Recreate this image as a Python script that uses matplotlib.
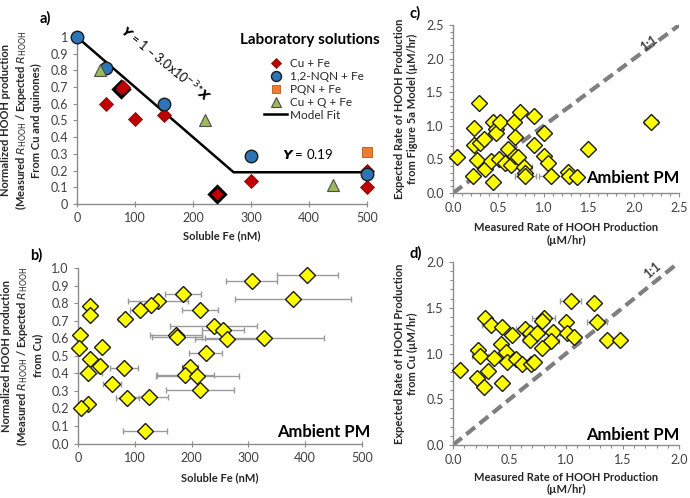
import matplotlib
matplotlib.use("Agg")
import matplotlib.pyplot as plt
from matplotlib.ticker import MultipleLocator, FuncFormatter

plt.rcParams['font.family'] = ['Lato', 'DejaVu Sans']
plt.rcParams['mathtext.fontset'] = 'dejavusans'

# ---- panel a: laboratory solutions ----
cufe_x = [50, 100, 150, 80, 300, 500, 500]
cufe_y = [0.60, 0.51, 0.53, 0.70, 0.14, 0.10, 0.195]
cufe_bold_x = [75, 242]
cufe_bold_y = [0.69, 0.06]
nqn_x = [0, 50, 150, 300, 500]
nqn_y = [1.0, 0.815, 0.60, 0.29, 0.18]
pqn_x = [500]
pqn_y = [0.31]
cuq_x = [39, 220, 441]
cuq_y = [0.80, 0.50, 0.114]
fit_x = [0, 270, 500]
fit_y = [1.0, 0.19, 0.19]

# ---- panel b: ambient PM, normalized vs soluble Fe ----
b_x = [404, 306, 379, 185, 141, 128, 109, 215, 82, 22, 22, 239, 255, 173, 175,
       262, 328, 3, 1, 43, 225, 21, 38, 81, 197, 18, 189, 210, 60, 215, 87, 125,
       18, 6, 118]
b_y = [0.962, 0.924, 0.825, 0.851, 0.81, 0.787, 0.762, 0.762, 0.71, 0.785, 0.733,
       0.672, 0.644, 0.619, 0.606, 0.594, 0.60, 0.619, 0.547, 0.552, 0.514, 0.48,
       0.442, 0.432, 0.438, 0.40, 0.39, 0.383, 0.337, 0.305, 0.257, 0.267, 0.225,
       0.204, 0.072]
b_xerr = [53, 45, 102, 32, 53, 0, 18, 32, 12, 0, 0, 77, 37, 46, 44, 56, 105, 0, 0,
          0, 29, 0, 0, 25, 14, 25, 50, 73, 16, 60, 20, 34, 0, 0, 39]

# ---- panel c: expected (model) vs measured ----
c_x = [0.04, 0.29, 0.23, 0.23, 0.30, 0.34, 0.27, 0.22, 0.35, 0.44, 0.42, 0.44,
       0.48, 0.48, 0.52, 0.51, 0.58, 0.61, 0.64, 0.67, 0.69, 0.68, 0.72, 0.74,
       0.78, 0.80, 0.80, 0.89, 0.90, 1.00, 1.01, 1.05, 1.08, 1.27, 1.28, 1.37,
       1.49, 2.19]
c_y = [0.53, 1.34, 0.97, 0.72, 0.75, 0.81, 0.49, 0.26, 0.36, 0.16, 0.48, 1.06,
       0.96, 0.90, 1.06, 0.50, 0.44, 0.66, 0.41, 1.06, 0.84, 0.55, 0.53, 1.21,
       0.39, 0.30, 0.26, 0.71, 1.15, 0.90, 0.55, 0.45, 0.25, 0.31, 0.26, 0.24,
       0.66, 1.06]
c_xerr = [0, 0, 0, 0.05, 0, 0, 0, 0, 0, 0, 0, 0, 0.03, 0, 0, 0, 0.06, 0, 0, 0, 0,
          0.05, 0, 0, 0.09, 0, 0.12, 0, 0.05, 0, 0.05, 0, 0.13, 0.06, 0, 0, 0, 0.08]

# ---- panel d: expected (Cu) vs measured ----
d_x = [0.06, 0.28, 0.34, 0.43, 0.52, 0.64, 0.68, 0.68, 0.74, 0.80, 0.79, 0.88,
       0.87, 0.79, 1.00, 1.01, 1.04, 1.07, 1.25, 1.27, 1.36, 1.48, 0.22, 0.24,
       0.36, 0.42, 0.47, 0.48, 0.56, 0.61, 0.69, 0.72, 0.31, 0.21, 0.27, 0.43]
d_y = [0.82, 1.39, 1.31, 1.29, 1.20, 1.27, 1.22, 1.15, 1.22, 1.39, 1.36, 1.23,
       1.14, 1.06, 1.34, 1.22, 1.57, 1.18, 1.55, 1.34, 1.15, 1.15, 1.04, 0.97,
       0.95, 1.10, 1.02, 0.91, 0.94, 0.88, 0.89, 0.91, 0.81, 0.73, 0.63, 0.68]
d_xerr = [0, 0, 0.08, 0, 0.05, 0.08, 0, 0.06, 0.06, 0.10, 0, 0.05, 0.07, 0, 0,
          0.06, 0.09, 0, 0, 0.09, 0, 0, 0, 0.07, 0, 0, 0, 0, 0, 0, 0, 0, 0, 0, 0,
          0.05]

spine_c = '#8c8c8c'
tick_c = '#404040'
yellow = '#FFFF00'
err_c = '#9a9a9a'


def style_axes(ax):
    for s in ['top', 'right']:
        ax.spines[s].set_visible(False)
    for s in ['left', 'bottom']:
        ax.spines[s].set_color(spine_c)
        ax.spines[s].set_linewidth(1)
    ax.tick_params(axis='both', colors=spine_c, labelcolor=tick_c, labelsize=9,
                   length=3, width=0.8)
    ax.tick_params(which='minor', colors=spine_c, length=2.5, width=0.8)


def ambient_scatter(ax, x, y, xerr):
    ax.errorbar(x, y, xerr=xerr, fmt='none', ecolor=err_c, elinewidth=1,
                capsize=2, capthick=1, zorder=2)
    ax.plot(x, y, 'D', ms=8, mfc=yellow, mec='#1a1a1a', mew=1, ls='none',
            zorder=3, clip_on=False)


fig = plt.figure(figsize=(6.9, 4.98), dpi=100)
lab_kw = dict(fontsize=8, fontweight='bold', color='#262626')

# ---------------- a ----------------
ax = fig.add_axes([0.1116, 0.5904, 0.4203, 0.3353])
style_axes(ax)
hfit, = ax.plot(fit_x, fit_y, color='black', lw=1.8, zorder=2, label='Model Fit')
ax.plot(cufe_bold_x, cufe_bold_y, 'D', ms=8, mfc='#C00000', mec='black', mew=2.2,
        ls='none', zorder=3)
h1, = ax.plot(cufe_x, cufe_y, 'D', ms=7, mfc='#C00000', mec='#7a1010', mew=0.6,
              ls='none', zorder=4, label='Cu + Fe', clip_on=False)
h2, = ax.plot(nqn_x, nqn_y, 'o', ms=9, mfc='#2E75B6', mec='#1a1a1a', mew=1,
              ls='none', zorder=5, label='1,2-NQN + Fe', clip_on=False)
h3, = ax.plot(pqn_x, pqn_y, 's', ms=7, mfc='#ED7D31', mec='#b05a1a', mew=0.6,
              ls='none', zorder=5, label='PQN + Fe', clip_on=False)
h4, = ax.plot(cuq_x, cuq_y, '^', ms=9, mfc='#9BBB59', mec='#4d4d4d', mew=0.8,
              ls='none', zorder=5, label='Cu + Q + Fe', clip_on=False)
ax.set_xlim(0, 500)
ax.set_ylim(0, 1)
ax.xaxis.set_major_locator(MultipleLocator(100))
ax.yaxis.set_major_locator(MultipleLocator(0.1))
ax.yaxis.set_major_formatter(FuncFormatter(lambda v, p: f"{v:g}" if abs(v - round(v)) > 1e-9 else f"{int(round(v))}"))
ax.tick_params(axis='x', direction='inout', length=5)
ax.set_xlabel('Soluble Fe (nM)', labelpad=4, **lab_kw)
ax.set_ylabel('Normalized HOOH production\n(Measured $R_{\\mathrm{HOOH}}$ / Expected $R_{\\mathrm{HOOH}}$\nFrom Cu and quinones)',
              labelpad=6, **lab_kw)
leg = ax.legend(handles=[h1, h2, h3, h4, hfit], loc='upper left',
                bbox_to_anchor=(0.63, 0.90), frameon=False, fontsize=8.5,
                labelspacing=0.15, handletextpad=0.3, handlelength=1.9,
                markerscale=0.8, borderaxespad=0)
for t in leg.get_texts():
    t.set_color('#262626')
ax.text(0.562, 0.98, 'Laboratory solutions', transform=ax.transAxes, fontsize=11,
        fontweight='bold', ha='left', va='center', clip_on=False)
ax.text(152, 0.84, '$\\mathbfit{Y}$ = 1 – 3.0x10$^{-3}$*$\\mathbfit{X}$', fontsize=9,
        rotation=-39, rotation_mode='anchor', ha='center', va='center')
ax.text(397, 0.30, '$\\mathbfit{Y}$ = 0.19', fontsize=9.5, ha='center', va='center')
fig.text(0.058, 0.955, 'a)', fontsize=10.5, fontweight='bold')

# ---------------- b ----------------
ax = fig.add_axes([0.113, 0.1094, 0.4116, 0.3524])
style_axes(ax)
ambient_scatter(ax, b_x, b_y, b_xerr)
ax.set_xlim(0, 500)
ax.set_ylim(0, 1.0)
ax.xaxis.set_major_locator(MultipleLocator(100))
ax.yaxis.set_major_locator(MultipleLocator(0.1))
ax.yaxis.set_major_formatter(FuncFormatter(lambda v, p: f"{v:.1f}"))
ax.tick_params(axis='x', direction='inout', length=5)
ax.set_xlabel('Soluble Fe (nM)', labelpad=6, **lab_kw)
ax.set_ylabel('Normalized HOOH production\n(Measured $R_{\\mathrm{HOOH}}$ / Expected $R_{\\mathrm{HOOH}}$\nfrom Cu)',
              labelpad=6, **lab_kw)
ax.text(1.03, 0.066, 'Ambient PM', transform=ax.transAxes, fontsize=12,
        fontweight='bold', ha='right', va='center', clip_on=False)
fig.text(0.043, 0.478, 'b)', fontsize=10.5, fontweight='bold')

# ---------------- c ----------------
ax = fig.add_axes([0.6565, 0.6124, 0.328, 0.3373])
style_axes(ax)
ax.plot([0, 2.5], [0, 2.5], color='#7f7f7f', lw=3, dashes=(2.7, 1.4), zorder=1)
ambient_scatter(ax, c_x, c_y, c_xerr)
ax.set_xlim(0, 2.5)
ax.set_ylim(0, 2.5)
ax.xaxis.set_major_locator(MultipleLocator(0.5))
ax.yaxis.set_major_locator(MultipleLocator(0.5))
ax.xaxis.set_minor_locator(MultipleLocator(0.1))
ax.yaxis.set_minor_locator(MultipleLocator(0.1))
ax.xaxis.set_major_formatter(FuncFormatter(lambda v, p: f"{v:.1f}"))
ax.yaxis.set_major_formatter(FuncFormatter(lambda v, p: f"{v:.1f}"))
ax.set_xlabel('Measured Rate of HOOH Production\n(µM/hr)', labelpad=6, **lab_kw)
ax.set_ylabel('Expected Rate of HOOH Production\nfrom Figure 5a Model (µM/hr)',
              labelpad=6, **lab_kw)
ax.text(2.17, 2.23, '1:1', fontsize=9, fontweight='bold', rotation=36,
        ha='center', va='center', color='#404040')
ax.text(1.0, 0.09, 'Ambient PM', transform=ax.transAxes, fontsize=12,
        fontweight='bold', ha='right', va='center', clip_on=False)
fig.text(0.593, 0.965, 'c)', fontsize=10.5, fontweight='bold')

# ---------------- d ----------------
ax = fig.add_axes([0.6565, 0.1064, 0.328, 0.3675])
style_axes(ax)
ax.plot([0, 2.0], [0, 2.0], color='#7f7f7f', lw=3, dashes=(2.7, 1.4), zorder=1)
ambient_scatter(ax, d_x, d_y, d_xerr)
ax.set_xlim(0, 2.0)
ax.set_ylim(0, 2.0)
ax.xaxis.set_major_locator(MultipleLocator(0.5))
ax.yaxis.set_major_locator(MultipleLocator(0.5))
ax.xaxis.set_minor_locator(MultipleLocator(0.1))
ax.yaxis.set_minor_locator(MultipleLocator(0.1))
ax.xaxis.set_major_formatter(FuncFormatter(lambda v, p: f"{v:.1f}"))
ax.yaxis.set_major_formatter(FuncFormatter(lambda v, p: f"{v:.1f}"))
ax.set_xlabel('Measured Rate of HOOH Production\n(µM/hr)', labelpad=4, **lab_kw)
ax.set_ylabel('Expected Rate of HOOH Production\nfrom Cu (µM/hr)',
              labelpad=6, **lab_kw)
ax.text(1.76, 1.91, '1:1', fontsize=9, fontweight='bold', rotation=40,
        ha='center', va='center', color='#404040')
ax.text(1.0, 0.055, 'Ambient PM', transform=ax.transAxes, fontsize=12,
        fontweight='bold', ha='right', va='center', clip_on=False)
fig.text(0.594, 0.482, 'd)', fontsize=10.5, fontweight='bold')

fig.savefig('out.png', dpi=100)
